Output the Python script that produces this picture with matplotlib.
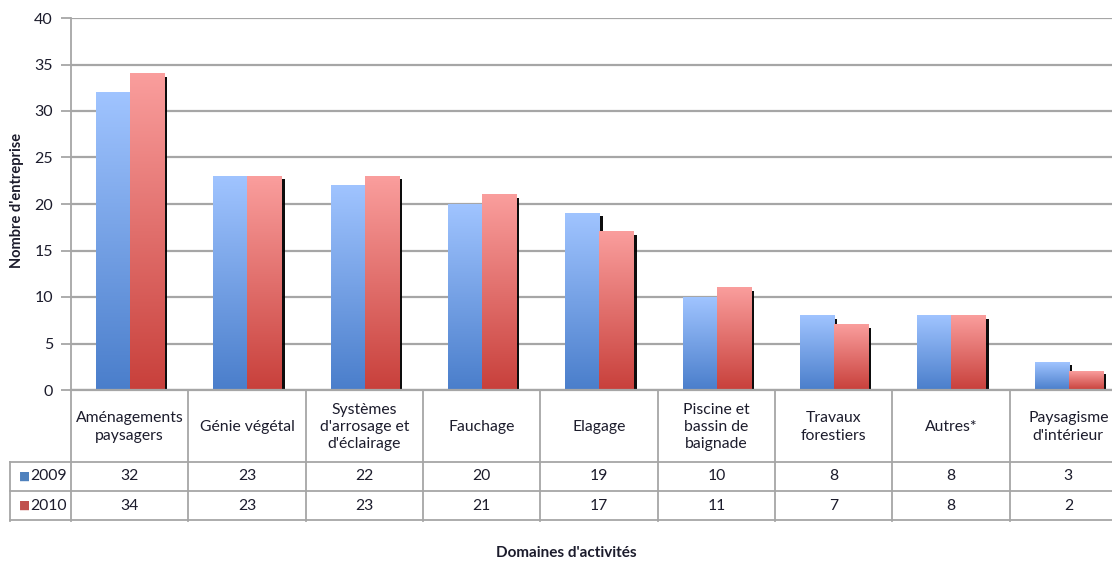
import matplotlib.pyplot as plt
import matplotlib.patheffects as pe
from matplotlib.colors import LinearSegmentedColormap
import numpy as np

# activity domains and number of companies per year
domaines = ["Aménagements\npaysagers", "Génie végétal", "Systèmes\nd'arrosage et\nd'éclairage",
            "Fauchage", "Elagage", "Piscine et\nbassin de\nbaignade", "Travaux\nforestiers",
            "Autres*", "Paysagisme\nd'intérieur"]
annees = ["2009", "2010"]
val_2009 = [32, 23, 22, 20, 19, 10, 8, 8, 3]
val_2010 = [34, 23, 23, 21, 17, 11, 7, 8, 2]

W, H = 1112, 562
plt.rcParams['font.family'] = ['Lato', 'DejaVu Sans']
TXT = '#1c1c2c'
GRID = '#a6a6a6'
RIGHT = 1127  # plot area runs slightly past the right edge


def px(l, t, r, b):
    # pixel box -> figure fraction rect
    return [l / W, 1 - b / H, (r - l) / W, (b - t) / H]


fig = plt.figure(figsize=(W / 100, H / 100), dpi=100)
ax = fig.add_axes(px(71, 18, RIGHT, 390))

n = len(domaines)
x = np.arange(n) + 0.503
bw = 0.29

cmaps = [LinearSegmentedColormap.from_list('b', ['#a0c4ff', '#4a7ecb']),
         LinearSegmentedColormap.from_list('r', ['#fa9e9d', '#c8403b'])]
keys = ['#4f81bd', '#c0504d']

shadow = [pe.SimplePatchShadow(offset=(2.3, -2.2), shadow_rgbFace='black', alpha=0.95), pe.Normal()]
for k, vals in enumerate([val_2009, val_2010]):
    bars = ax.bar(x + (k - 0.5) * bw, vals, bw, color=keys[k], zorder=1, linewidth=0)
    for p in bars:
        p.set_path_effects(shadow)
        x0, w, h = p.get_x(), p.get_width(), p.get_height()
        grad = np.linspace(0, 1, 256).reshape(-1, 1)
        ax.imshow(grad, cmap=cmaps[k], extent=[x0, x0 + w, 0, h], aspect='auto',
                  origin='upper', zorder=2)

ax.set_xlim(0, n)
ax.set_ylim(0, 40)
ax.set_yticks(np.arange(0, 41, 5))
ax.set_xticks([])
ax.set_axisbelow(True)
ax.yaxis.grid(True, color=GRID, linewidth=1.6)
for s in ['top', 'right']:
    ax.spines[s].set_visible(False)
ax.spines['left'].set_color(GRID)
ax.spines['left'].set_linewidth(1.3)
ax.spines['bottom'].set_color(GRID)
ax.spines['bottom'].set_linewidth(1.6)
ax.tick_params(axis='y', length=7, color=GRID, width=1.3, labelsize=11.5, labelcolor=TXT, pad=6)

# data table under the bars
tab = fig.add_axes(px(10, 390, RIGHT, 522))
left = -61 / ((RIGHT - 71) / n)
tab.set_xlim(left, n)
tab.set_ylim(132, 0)
tab.axis('off')
lc = dict(color=GRID, linewidth=1.3, clip_on=False)
for i in range(n + 1):
    tab.plot([i, i], [0, 131], **lc)
tab.plot([left, left], [72, 131], **lc)
for yy in [72, 101, 130]:
    tab.plot([left, n], [yy, yy], **lc)

for i, name in enumerate(domaines):
    tab.text(i + 0.5, 37, name, ha='center', va='center', fontsize=11.3, color=TXT,
             linespacing=1.3)
rows_y = [86.5, 115.5]
for k, vals in enumerate([val_2009, val_2010]):
    for i, v in enumerate(vals):
        tab.text(i + 0.5, rows_y[k], str(v), ha='center', va='center', fontsize=11.3, color=TXT)
    tab.text(left + 0.08, rows_y[k], '■', ha='left', va='center', fontsize=8.5, color=keys[k],
             family=['DejaVu Sans'])
    tab.text(left + 0.17, rows_y[k], annees[k], ha='left', va='center', fontsize=11.3, color=TXT)

fig.text(17 / W, 1 - 200 / H, "Nombre d'entreprise", rotation=90, ha='center', va='center',
         fontsize=10.5, fontweight='bold', color=TXT)
fig.text(566 / W, 1 - 553 / H, "Domaines d'activités", ha='center', va='center',
         fontsize=11, fontweight='bold', color=TXT)

fig.savefig('out.png', dpi=100)
